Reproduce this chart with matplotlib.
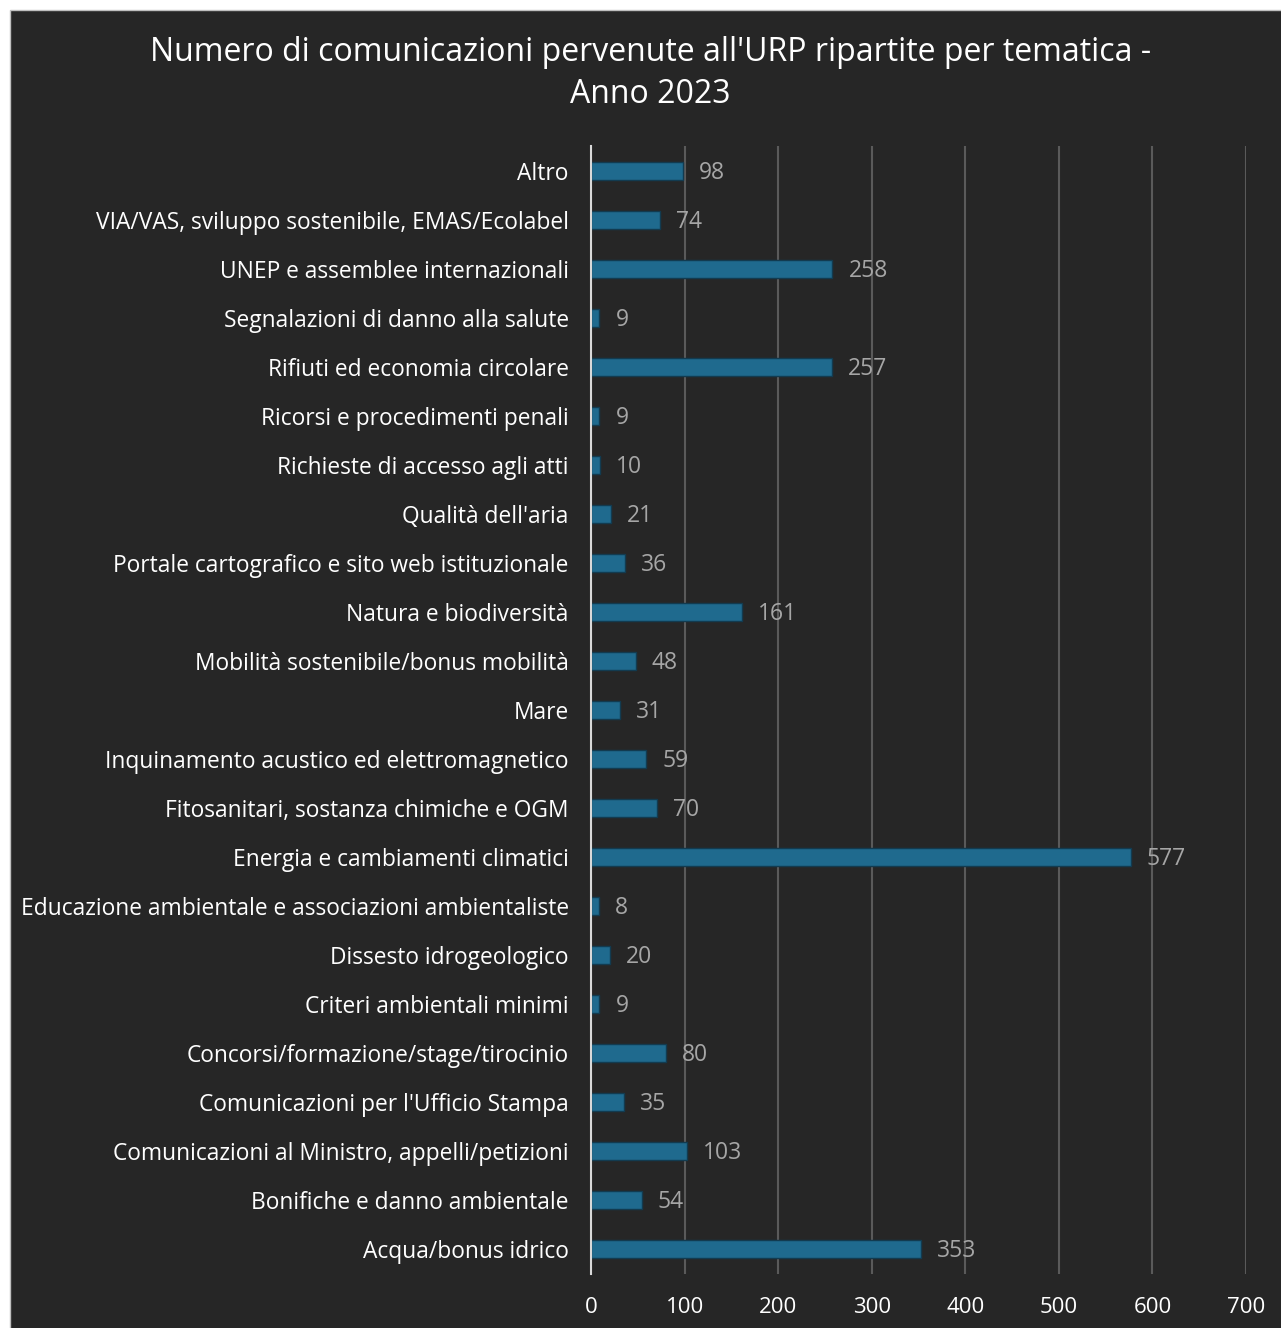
import matplotlib.pyplot as plt
from matplotlib.patches import Rectangle

categories = [
    "Altro",
    "VIA/VAS, sviluppo sostenibile, EMAS/Ecolabel",
    "UNEP e assemblee internazionali",
    "Segnalazioni di danno alla salute",
    "Rifiuti ed economia circolare",
    "Ricorsi e procedimenti penali",
    "Richieste di accesso agli atti",
    "Qualità dell'aria",
    "Portale cartografico e sito web istituzionale",
    "Natura e biodiversità",
    "Mobilità sostenibile/bonus mobilità",
    "Mare",
    "Inquinamento acustico ed elettromagnetico",
    "Fitosanitari, sostanza chimiche e OGM",
    "Energia e cambiamenti climatici",
    "Educazione ambientale e associazioni ambientaliste",
    "Dissesto idrogeologico",
    "Criteri ambientali minimi",
    "Concorsi/formazione/stage/tirocinio",
    "Comunicazioni per l'Ufficio Stampa",
    "Comunicazioni al Ministro, appelli/petizioni",
    "Bonifiche e danno ambientale",
    "Acqua/bonus idrico",
]
values = [98, 74, 258, 9, 257, 9, 10, 21, 36, 161, 48, 31, 59, 70, 577,
          8, 20, 9, 80, 35, 103, 54, 353]
xticks = [0, 100, 200, 300, 400, 500, 600, 700]

plt.rcParams['font.family'] = ['Open Sans', 'DejaVu Sans']

bg = '#262626'
fig = plt.figure(figsize=(12.81, 13.28), dpi=100, facecolor='white')
# dark panel, light frame only shows on top/left
fig.patches.append(Rectangle((10 / 1281, -0.1), 2, 1.1 - 10 / 1328,
                             transform=fig.transFigure, facecolor=bg,
                             edgecolor='#bfbfbf', linewidth=1, zorder=-1))

ax = fig.add_axes([0.4614, 0.041, 0.5113, 0.8487])
ax.set_facecolor(bg)

pos = list(range(len(categories)))
ax.barh(pos, values, height=0.35, color='#1f6a8e', edgecolor='#123b50',
        linewidth=1, zorder=3)
for y, v in zip(pos, values):
    ax.annotate(str(v), (v, y), xytext=(11.5, -1.5), textcoords='offset points',
                va='center', ha='left', color='#a6a6a6', fontsize=16.5, zorder=4)

ax.set_xlim(0, 700)
ax.set_ylim(len(categories) - 0.5, -0.5)
ax.set_xticks(xticks)
ax.set_yticks(pos)
ax.set_yticklabels(categories)
ax.tick_params(axis='y', length=0, pad=16, labelsize=16.4, labelcolor='white')
ax.tick_params(axis='x', length=0, pad=17, labelsize=16, labelcolor='white')
ax.grid(axis='x', color='#5a5a5a', linewidth=1.5, zorder=0)
for s in ['top', 'right', 'bottom']:
    ax.spines[s].set_visible(False)
ax.spines['left'].set_color('#d9d9d9')
ax.spines['left'].set_linewidth(1.5)
ax.spines['left'].set_zorder(5)

fig.text(0.508, 0.9605, "Numero di comunicazioni pervenute all'URP ripartite per tematica -",
         ha='center', va='center', color='white', fontsize=23)
fig.text(0.508, 0.9285, "Anno 2023", ha='center', va='center', color='white',
         fontsize=23)

fig.savefig('out.png', dpi=100, facecolor=fig.get_facecolor())
